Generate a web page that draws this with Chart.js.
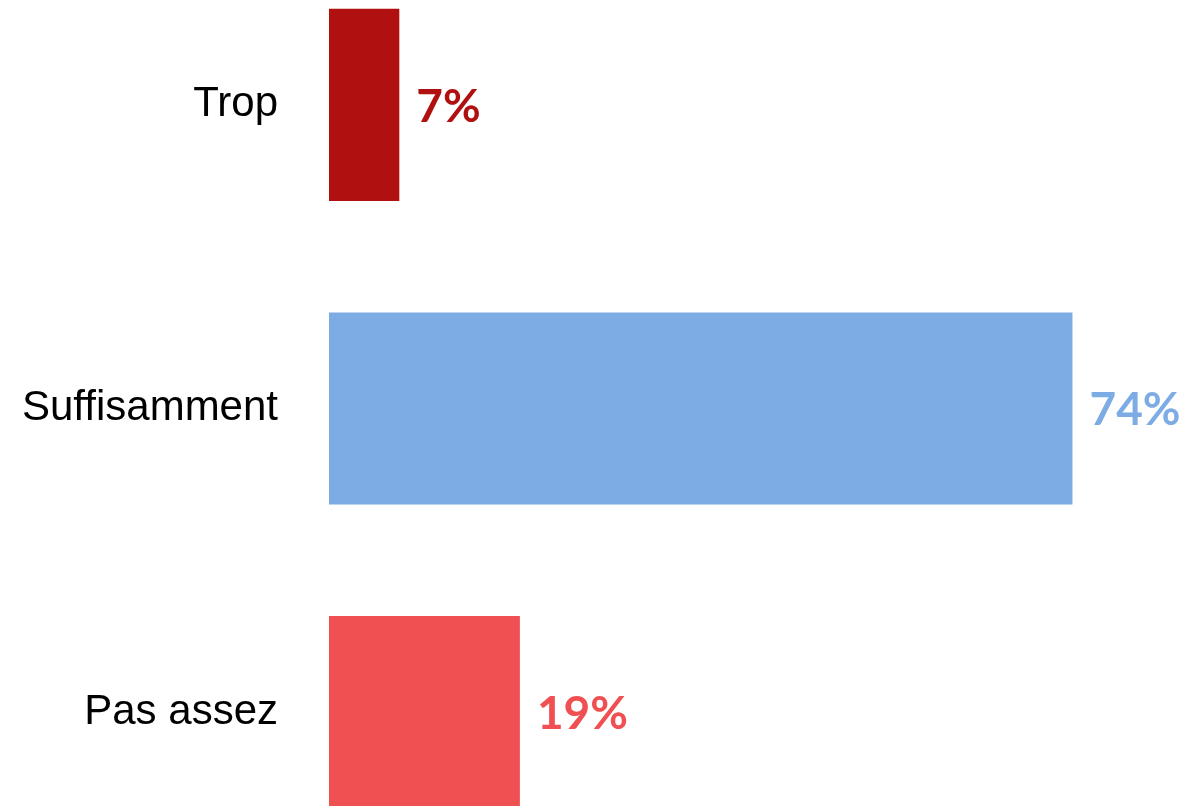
<!DOCTYPE html>
<html>
<head>
<meta charset="utf-8">
<script src="https://cdn.jsdelivr.net/npm/chart.js@4/dist/chart.umd.min.js"></script>
<style>
  html, body { margin: 0; padding: 0; background: #fff; overflow: hidden; }
  #frame { position: relative; width: 1189px; height: 806px; overflow: hidden; }
  /* chart area runs past the window edges, as in the cropped original */
  #holder { position: absolute; left: 0; top: -47px; width: 1189px; height: 911px; }
</style>
</head>
<body>
<div id="frame"><div id="holder"><canvas id="chart"></canvas></div></div>
<script>
'use strict';

// ── Data ──────────────────────────────────────────────────────
const categories = ['Trop', 'Suffisamment', 'Pas assez'];
const values     = [7, 74, 19];
const barColors  = ['#B11010', '#7DACE5', '#F05052'];

// ── Value labels at the end of each bar ───────────────────────
const valueLabels = {
  id: 'valueLabels',
  afterDatasetsDraw(chart) {
    const ctx  = chart.ctx;
    const meta = chart.getDatasetMeta(0);
    ctx.save();
    ctx.font = 'bold 46px Lato, "Open Sans", sans-serif';
    ctx.textAlign = 'left';
    ctx.textBaseline = 'middle';
    meta.data.forEach((bar, i) => {
      ctx.fillStyle = barColors[i];
      ctx.fillText(values[i] + '%', bar.x + 17, bar.y + 2);
    });
    ctx.restore();
  }
};

new Chart(document.getElementById('chart'), {
  type: 'bar',
  data: {
    labels: categories,
    datasets: [{
      data: values,
      backgroundColor: barColors,
      borderWidth: 0,
      categoryPercentage: 1,
      barPercentage: 0.633,
    }],
  },
  plugins: [valueLabels],
  options: {
    indexAxis: 'y',
    responsive: true,
    maintainAspectRatio: false,
    animation: false,
    layout: { padding: 0 },
    plugins: {
      legend: { display: false },
      tooltip: { enabled: false },
    },
    scales: {
      x: {
        display: false,
        min: 0,
        max: 85.6,
      },
      y: {
        grid: { display: false, drawTicks: false },
        border: { display: false },
        ticks: {
          color: '#000',
          padding: 51,
          font: { family: '"Liberation Sans", Arial, sans-serif', size: 42 },
        },
        afterFit(scale) {
          scale.width = 329;
          scale.paddingTop = 0;
          scale.paddingBottom = 0;
        },
      },
    },
  },
});
</script>
</body>
</html>
